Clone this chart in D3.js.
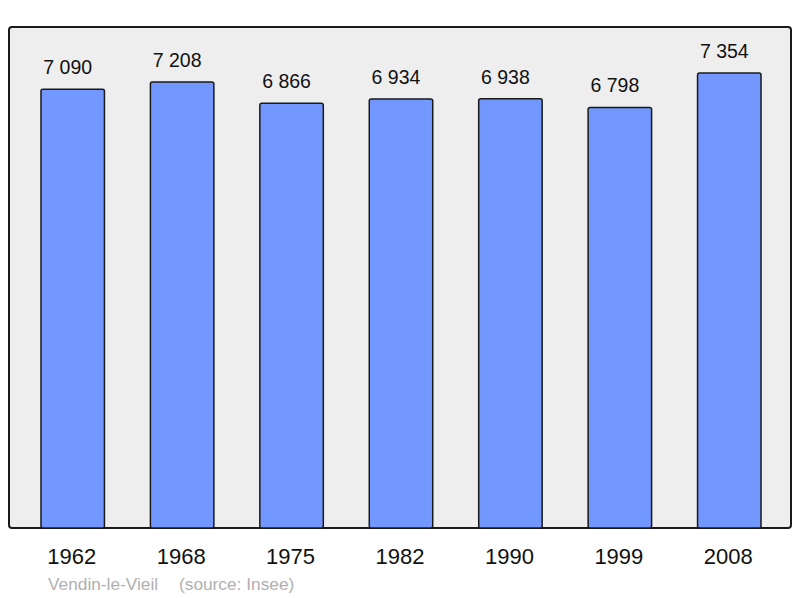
<!DOCTYPE html>
<html>
<head>
<meta charset="utf-8">
<script src="https://cdn.jsdelivr.net/npm/d3@7"></script>
<style>
  body { margin: 0; background: #fff; }
  svg { display: block; font-family: "Liberation Sans", Arial, sans-serif; }
</style>
</head>
<body>
<div class="chart"></div>
<script>
// population data
const years = ['1962', '1968', '1975', '1982', '1990', '1999', '2008'];
const population = [7090, 7208, 6866, 6934, 6938, 6798, 7354];
const valueLabels = ['7 090', '7 208', '6 866', '6 934', '6 938', '6 798', '7 354'];

const width = 800;
const height = 598;

const svg = d3.select('.chart')
  .append('svg')
  .attr('width', width)
  .attr('height', height);

const data = years.map((y, i) => ({year: y, pop: population[i], label: valueLabels[i]}));

// frame
svg.append('rect')
  .attr('x', 9)
  .attr('y', 27)
  .attr('width', 782)
  .attr('height', 501)
  .attr('rx', 3)
  .attr('fill', '#eeeeee')
  .attr('stroke', '#1a1a1a')
  .attr('stroke-width', 2);

const xScale = d3.scaleBand()
  .domain(years)
  .range([18, 784])
  .paddingInner(0.42)
  .paddingOuter(0.21);

const yScale = d3.scaleLinear()
  .domain([0, 7354])
  .range([528, 73]);

svg.selectAll('rect.bar')
  .data(data)
  .enter()
  .append('rect')
    .classed('bar', true)
    .attr('x', d => xScale(d.year))
    .attr('y', d => yScale(d.pop))
    .attr('width', xScale.bandwidth())
    .attr('height', d => yScale(0) - yScale(d.pop))
    .attr('rx', 2)
    .attr('fill', '#7298ff')
    .attr('stroke', '#1a1a1a')
    .attr('stroke-width', 1.5);

// value labels above bars (sit a little left of bar centre in the original)
svg.selectAll('text.value')
  .data(data)
  .enter()
  .append('text')
    .classed('value', true)
    .attr('x', d => xScale(d.year) + xScale.bandwidth() / 2 - 5)
    .attr('y', d => yScale(d.pop) - 15)
    .attr('text-anchor', 'middle')
    .attr('font-size', 19.5)
    .attr('fill', '#111')
    .text(d => d.label);

// year labels
const xAxis = d3.axisBottom(xScale).tickSize(0).tickPadding(0);
const axisG = svg.append('g')
  .attr('transform', 'translate(0, 564)')
  .call(xAxis);
axisG.select('.domain').remove();
axisG.selectAll('text')
  .attr('dy', 0)
  .attr('dx', -1)
  .attr('font-size', 22)
  .attr('font-family', '"Liberation Sans", Arial, sans-serif')
  .attr('fill', '#111');

// source
svg.append('text')
  .attr('x', 48)
  .attr('y', 590)
  .attr('font-size', 17.3)
  .attr('fill', '#b0b0b0')
  .text('Vendin-le-Vieil');
svg.append('text')
  .attr('x', 179)
  .attr('y', 590)
  .attr('font-size', 17.3)
  .attr('fill', '#b0b0b0')
  .text('(source: Insee)');
</script>
</body>
</html>
